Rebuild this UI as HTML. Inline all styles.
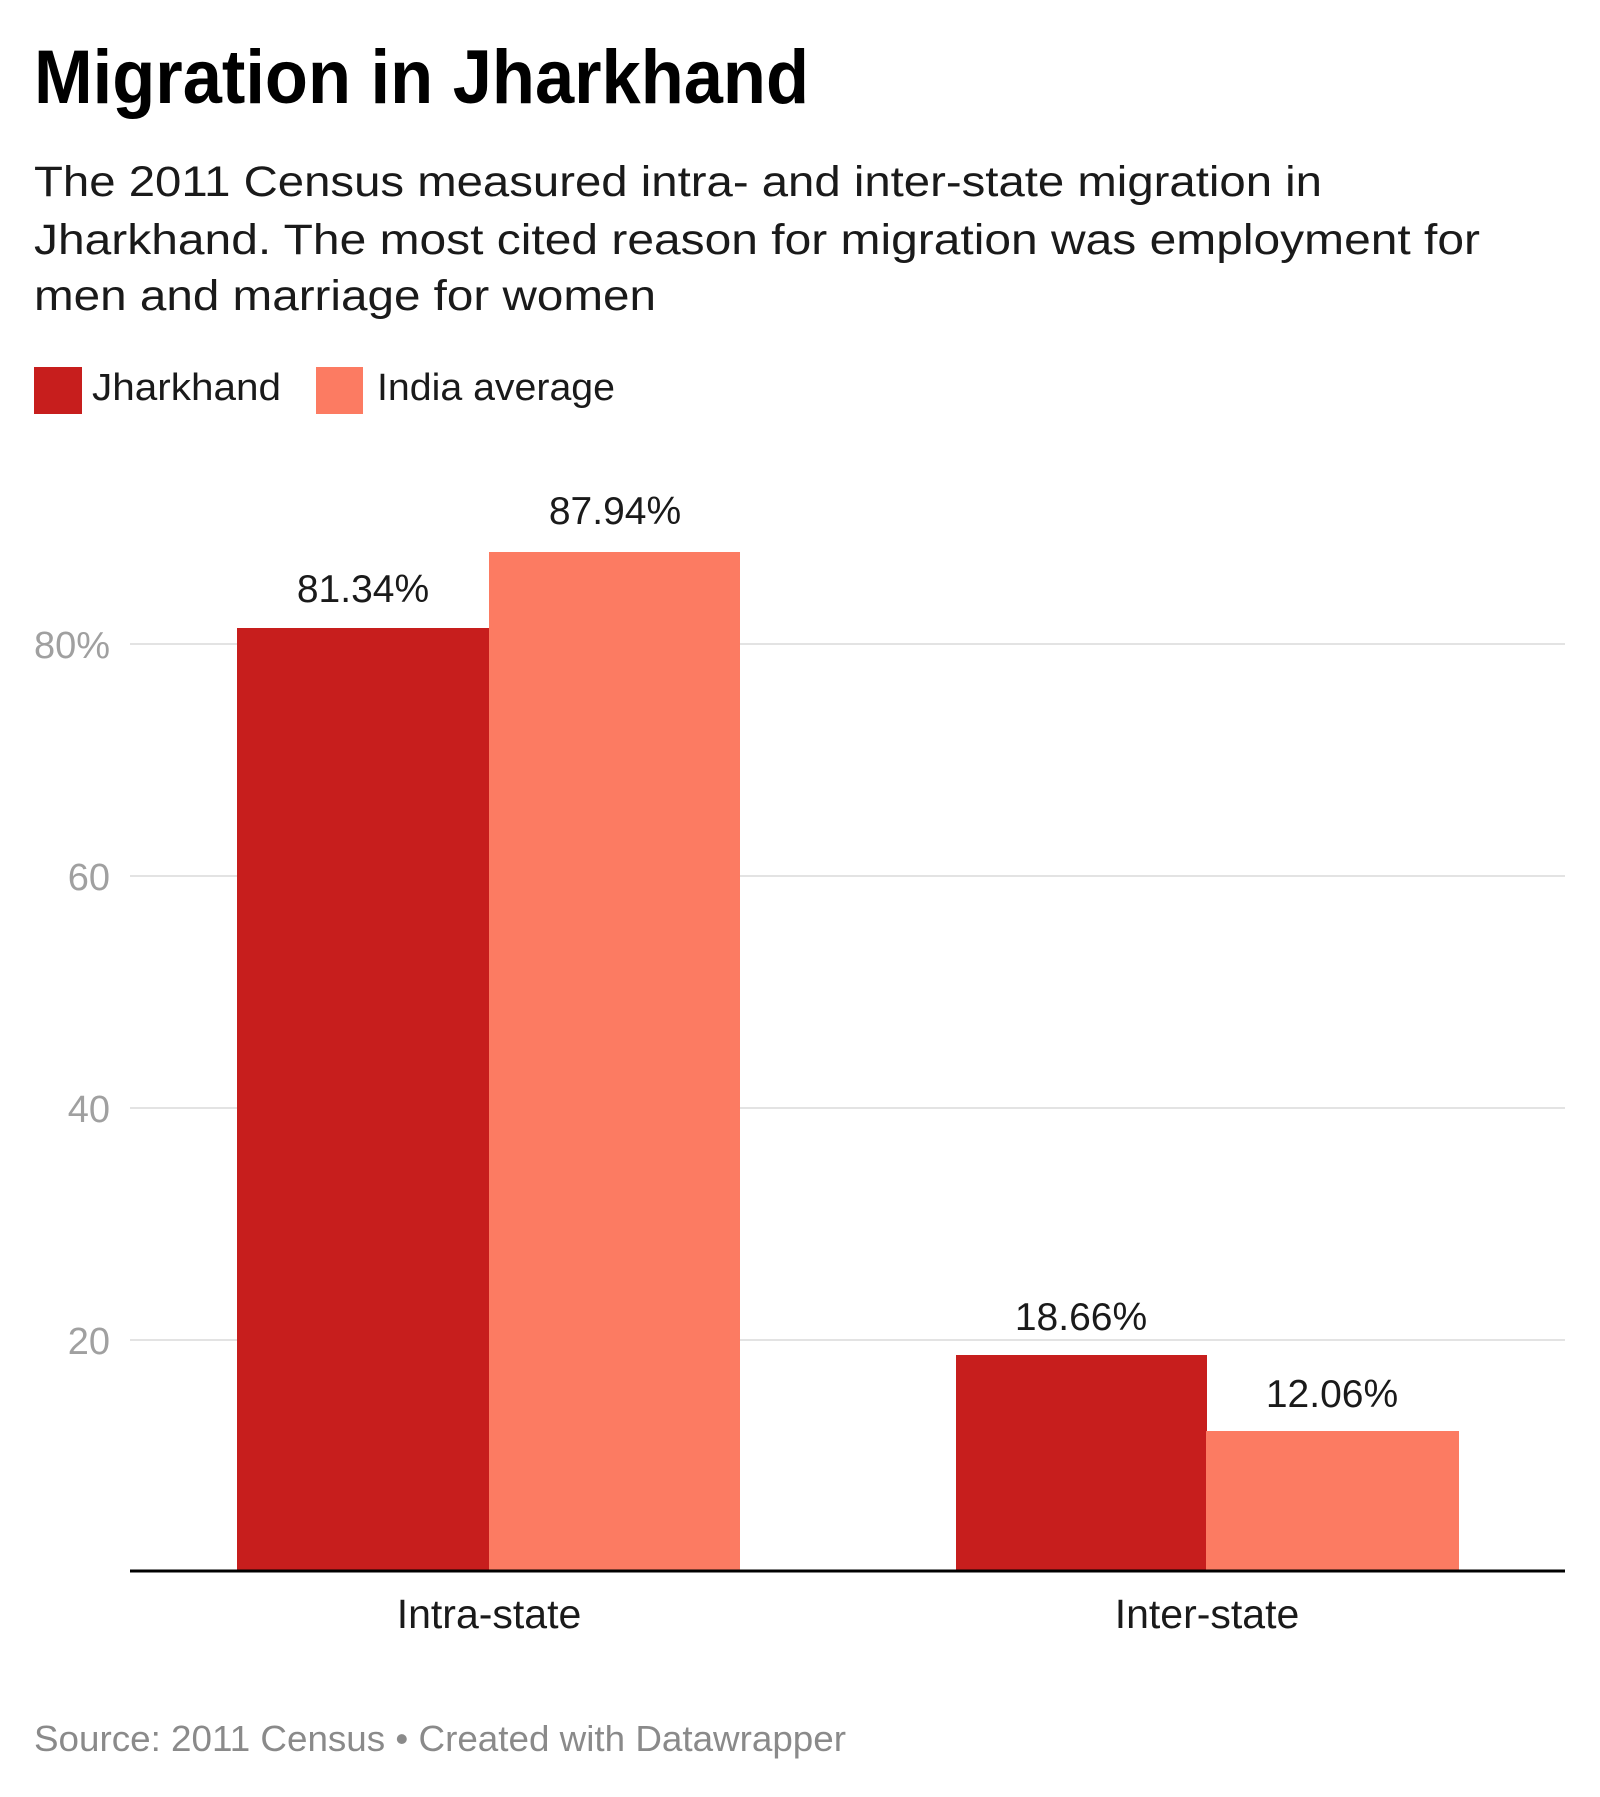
<!DOCTYPE html>
<html><head><meta charset="utf-8"><style>
html,body{margin:0;padding:0;background:#fff;}
svg{display:block;font-family:"Liberation Sans",Arial,sans-serif;}
</style></head><body>
<svg width="1600" height="1797" viewBox="0 0 1600 1797">
<text x="34" y="103" font-size="76" font-weight="bold" fill="#000" textLength="775" lengthAdjust="spacingAndGlyphs">Migration in Jharkhand</text>
<g font-size="43" fill="#1a1a1a">
<text x="34" y="196" textLength="1288" lengthAdjust="spacingAndGlyphs">The 2011 Census measured intra- and inter-state migration in</text>
<text x="34" y="254" textLength="1446" lengthAdjust="spacingAndGlyphs">Jharkhand. The most cited reason for migration was employment for</text>
<text x="34" y="310" textLength="622" lengthAdjust="spacingAndGlyphs">men and marriage for women</text>
</g>
<rect x="34" y="367" width="48" height="47" fill="#c71e1d"/>
<text x="92" y="400" font-size="38" fill="#1a1a1a" textLength="189" lengthAdjust="spacingAndGlyphs">Jharkhand</text>
<rect x="316" y="367" width="47" height="47" fill="#fc7b62"/>
<text x="377" y="400" font-size="38" fill="#1a1a1a" textLength="238" lengthAdjust="spacingAndGlyphs">India average</text>
<g stroke="#e3e3e3" stroke-width="2">
<line x1="130" y1="644" x2="1565" y2="644"/>
<line x1="130" y1="876" x2="1565" y2="876"/>
<line x1="130" y1="1108" x2="1565" y2="1108"/>
<line x1="130" y1="1340" x2="1565" y2="1340"/>
</g>
<g font-size="38" fill="#a0a0a0" text-anchor="end">
<text x="110" y="658">80%</text>
<text x="110" y="890">60</text>
<text x="110" y="1122">40</text>
<text x="110" y="1354">20</text>
</g>
<rect x="237" y="628" width="253" height="943" fill="#c71e1d"/>
<rect x="489" y="552" width="251" height="1019" fill="#fc7b62"/>
<rect x="956" y="1355" width="251" height="216" fill="#c71e1d"/>
<rect x="1206" y="1431" width="253" height="140" fill="#fc7b62"/>
<line x1="130" y1="1571" x2="1565" y2="1571" stroke="#000" stroke-width="3"/>
<g font-size="39" fill="#1a1a1a" text-anchor="middle">
<text x="363" y="602">81.34%</text>
<text x="615" y="524">87.94%</text>
<text x="1081" y="1330">18.66%</text>
<text x="1332" y="1407">12.06%</text>
</g>
<g font-size="41" fill="#1a1a1a" text-anchor="middle">
<text x="489" y="1628">Intra-state</text>
<text x="1207" y="1628">Inter-state</text>
</g>
<text x="34" y="1751" font-size="36" fill="#8a8a8a" textLength="812" lengthAdjust="spacingAndGlyphs">Source: 2011 Census • Created with Datawrapper</text>
</svg>
</body></html>
